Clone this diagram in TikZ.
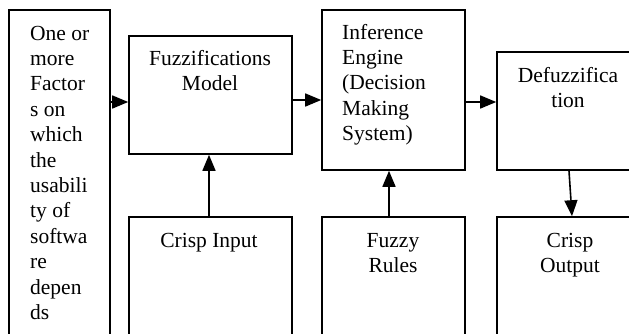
\documentclass[tikz,border=0pt]{standalone}
\usepackage{fontspec}
\setmainfont{Liberation Serif}
\usetikzlibrary{arrows.meta}
\tikzset{
  boxx/.style={draw=black, line width=1.6pt, rectangle, inner sep=0pt},
  txt/.style={inner sep=0pt, font=\fontsize{21.5}{25.4}\selectfont},
  arr/.style={draw=black, line width=1.6pt, -{Triangle[length=16pt,width=13pt]}}
}
\begin{document}
\begin{tikzpicture}[x=1pt,y=-1pt]
\clip (0,0) rectangle (629,333);
\fill[white] (0,0) rectangle (629,333);
% boxes
\node[boxx, minimum width=101pt, minimum height=335pt] (left) at (59.5,177.5) {};
\node[boxx, minimum width=163pt, minimum height=118pt] (fuzz) at (210.5,95) {};
\node[boxx, minimum width=163pt, minimum height=128pt] (cin) at (210.5,281) {};
\node[boxx, minimum width=143pt, minimum height=160pt] (inf) at (393.5,90) {};
\node[boxx, minimum width=143pt, minimum height=128pt] (rules) at (393.5,281) {};
\node[boxx, minimum width=143pt, minimum height=118pt] (defuzz) at (568.5,111) {};
\node[boxx, minimum width=143pt, minimum height=128pt] (cout) at (568.5,281) {};
% texts
\node[txt, anchor=north west, align=left] (tleft) at (30,22.2) {\strut One or\\more\\Factor\\s on\\which\\the\\usabili\\ty of\\softwa\\re\\depen\\ds};
\node[txt, anchor=north, align=center] (tfuzz) at (210,47.2) {\strut Fuzzifications\\Model};
\node[txt, anchor=north west, align=left] (tinf) at (342,21.2) {\strut Inference\\Engine\\(Decision\\Making\\System)};
\node[txt, anchor=north, align=center] (tdefuzz) at (568,64.2) {\strut Defuzzifica\\tion};
\node[txt, anchor=north, align=center] (tcin) at (209,229.2) {\strut Crisp Input};
\node[txt, anchor=north, align=center] (trules) at (393,229.2) {\strut Fuzzy\\Rules};
\node[txt, anchor=north, align=center] (tcout) at (570,229.2) {\strut Crisp\\Output};
% connectors
\draw[arr] (left.east |- 0,102) -- (fuzz.west |- 0,102);
\draw[arr] (fuzz.east |- 0,100) -- (inf.west |- 0,100);
\draw[arr] (inf.east |- 0,102) -- (defuzz.west |- 0,102);
\draw[arr] (cin.north -| 209,0) -- (fuzz.south -| 209,0);
\draw[arr] (rules.north -| 389,0) -- (inf.south -| 389,0);
\draw[arr] (defuzz.south -| 569,0) -- (cout.north -| 572,0);
\end{tikzpicture}
\end{document}
